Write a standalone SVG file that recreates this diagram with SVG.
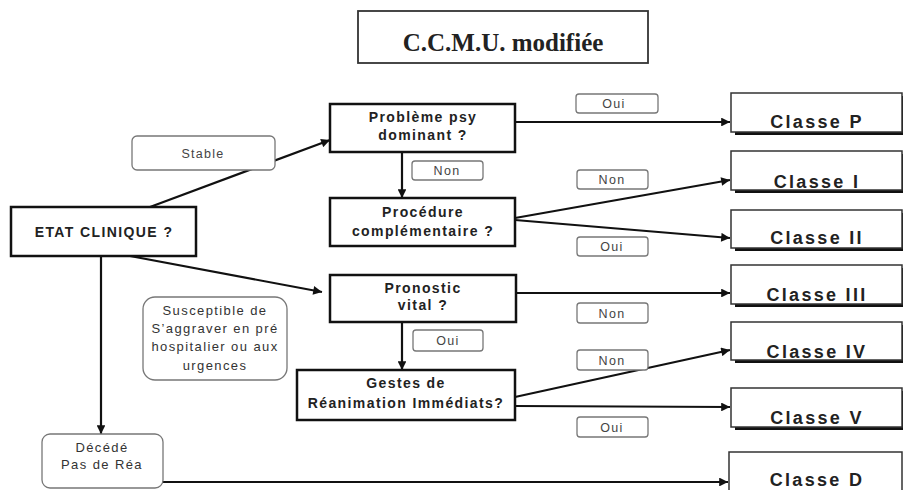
<svg xmlns="http://www.w3.org/2000/svg" width="903" height="490" viewBox="0 0 903 490">
<defs>
<style>
.node{fill:#fff;stroke:#111;stroke-width:2.5}
.cls{fill:#fff;stroke:#333;stroke-width:1.5}
.sh{fill:#111}
.lbl{fill:#fff;stroke:#777;stroke-width:1.3}
.nt{font-family:"Liberation Sans",Arial,sans-serif;font-weight:bold;font-size:14px;letter-spacing:1.4px;fill:#222;text-anchor:middle}
.ct{font-family:"Liberation Sans",Arial,sans-serif;font-weight:bold;font-size:18px;letter-spacing:2.3px;fill:#222;text-anchor:middle}
.lt{font-family:"Liberation Sans",Arial,sans-serif;font-size:12.5px;letter-spacing:1.3px;fill:#444;text-anchor:middle}
.st{font-family:"Liberation Sans",Arial,sans-serif;font-size:13px;letter-spacing:1.4px;fill:#333;text-anchor:middle}
.edge{stroke:#111;stroke-width:2.2;fill:none;marker-end:url(#ah)}
</style>
<marker id="ah" viewBox="0 0 10 10" refX="10" refY="5" markerWidth="5" markerHeight="4" markerUnits="strokeWidth" orient="auto">
<path d="M0,0 L10,5 L0,10 z" fill="#111"/>
</marker>
</defs>
<rect width="903" height="490" fill="#fff"/>

<g id="title">
<rect x="358" y="11" width="290" height="52" fill="#fff" stroke="#333" stroke-width="1.8"/>
<text x="503" y="51" font-family="Liberation Serif,'Times New Roman',serif" font-weight="bold" font-size="25" text-anchor="middle" fill="#222">C.C.M.U. modifiée</text>
</g>

<g id="connectors">
<line class="edge" x1="150" y1="207" x2="330" y2="140"/>
<line class="edge" x1="130" y1="256" x2="322" y2="292"/>
<line class="edge" x1="101" y1="256" x2="101" y2="434"/>
<line class="edge" x1="402" y1="152" x2="402" y2="198"/>
<line class="edge" x1="515" y1="122" x2="730" y2="122"/>
<line class="edge" x1="515" y1="218" x2="730" y2="180"/>
<line class="edge" x1="515" y1="220" x2="730" y2="238"/>
<line class="edge" x1="402" y1="322" x2="402" y2="370"/>
<line class="edge" x1="516" y1="293" x2="730" y2="293"/>
<line class="edge" x1="515" y1="397" x2="730" y2="350"/>
<line class="edge" x1="515" y1="406" x2="730" y2="407"/>
<line class="edge" x1="163" y1="482" x2="728" y2="482"/>
</g>

<g id="labels">
<g id="lbl-stable"><rect class="lbl" x="132" y="136" width="143" height="34" rx="5"/><text class="lt" x="203" y="158" font-size="14">Stable</text></g>
<g id="lbl-non1"><rect class="lbl" x="412" y="161" width="71" height="19" rx="3"/><text class="lt" x="447" y="175">Non</text></g>
<g id="lbl-oui1"><rect class="lbl" x="576" y="94" width="82" height="19" rx="3"/><text class="lt" x="614" y="108">Oui</text></g>
<g id="lbl-non2"><rect class="lbl" x="577" y="170" width="71" height="19" rx="3"/><text class="lt" x="612" y="184">Non</text></g>
<g id="lbl-oui2"><rect class="lbl" x="577" y="237" width="71" height="19" rx="3"/><text class="lt" x="612" y="251">Oui</text></g>
<g id="lbl-oui3"><rect class="lbl" x="413" y="330" width="70" height="21" rx="3"/><text class="lt" x="448" y="345">Oui</text></g>
<g id="lbl-non3"><rect class="lbl" x="577" y="303" width="71" height="20" rx="3"/><text class="lt" x="612" y="318">Non</text></g>
<g id="lbl-non4"><rect class="lbl" x="577" y="350" width="71" height="20" rx="3"/><text class="lt" x="612" y="365">Non</text></g>
<g id="lbl-oui4"><rect class="lbl" x="577" y="417" width="71" height="20" rx="3"/><text class="lt" x="612" y="432">Oui</text></g>
<g id="lbl-susceptible"><rect class="lbl" x="143" y="297" width="144" height="83" rx="12"/>
<text class="st" x="215" y="315">Susceptible de</text>
<text class="st" x="215" y="333">S’aggraver en pré</text>
<text class="st" x="215" y="351">hospitalier ou aux</text>
<text class="st" x="215" y="370">urgences</text></g>
</g>

<g id="etat"><rect class="node" x="11" y="207" width="185" height="49"/><text class="nt" x="104" y="237">ETAT CLINIQUE ?</text></g>
<g id="probleme"><rect class="node" x="330" y="104" width="185" height="48"/><text class="nt" x="423" y="122">Problème psy</text><text class="nt" x="423" y="140">dominant ?</text></g>
<g id="procedure"><rect class="node" x="330" y="198" width="185" height="48"/><text class="nt" x="423" y="217">Procédure</text><text class="nt" x="423" y="236">complémentaire ?</text></g>
<g id="pronostic"><rect class="node" x="330" y="275" width="186" height="47"/><text class="nt" x="423" y="293">Pronostic</text><text class="nt" x="423" y="310">vital ?</text></g>
<g id="gestes"><rect class="node" x="297" y="370" width="218" height="50"/><text class="nt" x="406" y="388">Gestes de</text><text class="nt" x="406" y="408">Réanimation Immédiats?</text></g>
<g id="decede"><rect class="lbl" x="42" y="434" width="121" height="54" rx="8" stroke="#666"/><text class="st" x="102" y="452" font-size="14">Décédé</text><text class="st" x="102" y="469" font-size="14">Pas de Réa</text></g>

<g id="classe-p"><rect class="sh" x="735" y="96" width="172" height="39"/><rect class="cls" x="731" y="93" width="171" height="39"/><text class="ct" x="817" y="128">Classe P</text></g>
<g id="classe-i"><rect class="sh" x="735" y="154" width="172" height="39"/><rect class="cls" x="731" y="151" width="171" height="39"/><text class="ct" x="817" y="188">Classe I</text></g>
<g id="classe-ii"><rect class="sh" x="735" y="213" width="172" height="38"/><rect class="cls" x="731" y="210" width="171" height="38"/><text class="ct" x="817" y="244">Classe II</text></g>
<g id="classe-iii"><rect class="sh" x="735" y="268" width="172" height="39"/><rect class="cls" x="731" y="265" width="171" height="39"/><text class="ct" x="817" y="301">Classe III</text></g>
<g id="classe-iv"><rect class="sh" x="735" y="325" width="172" height="38"/><rect class="cls" x="731" y="322" width="171" height="38"/><text class="ct" x="817" y="358">Classe IV</text></g>
<g id="classe-v"><rect class="sh" x="735" y="391" width="172" height="39"/><rect class="cls" x="731" y="388" width="171" height="39"/><text class="ct" x="817" y="424">Classe V</text></g>
<g id="classe-d"><rect class="cls" x="729" y="452" width="173" height="45"/><text class="ct" x="817" y="486">Classe D</text></g>
</svg>
